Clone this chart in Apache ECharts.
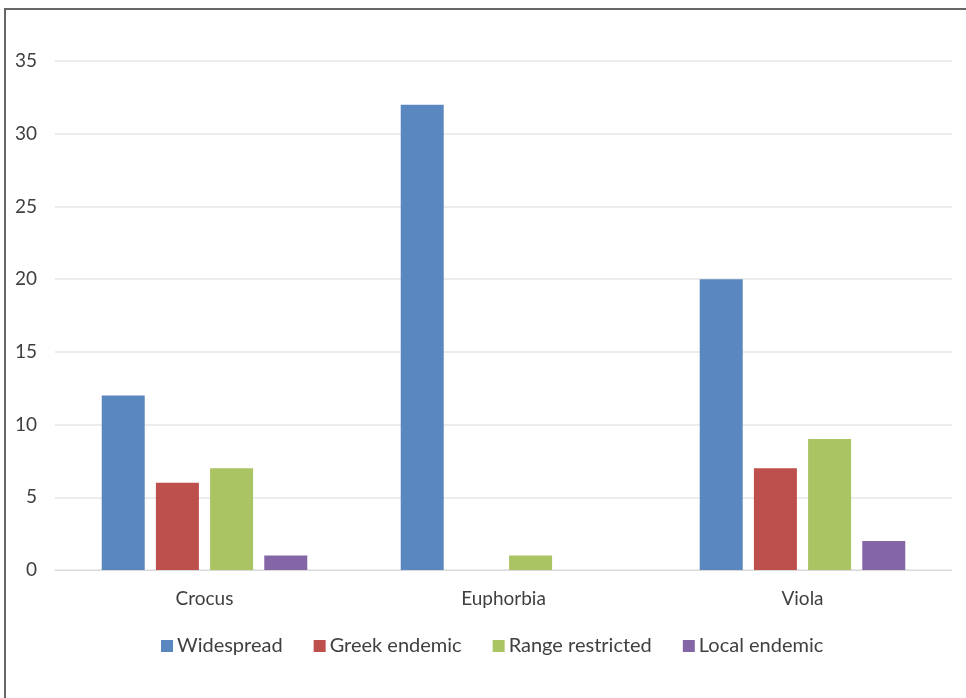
<!DOCTYPE html>
<html>
<head>
<meta charset="utf-8">
<script src="https://cdn.jsdelivr.net/npm/echarts@6/dist/echarts.min.js"></script>
<style>
html,body{margin:0;padding:0;background:#fff;}
#chart{width:966px;height:698px;}
</style>
</head>
<body>
<div id="chart"></div>
<script>
const categories = ['Crocus', 'Euphorbia', 'Viola'];
const widespread = [12, 32, 20];
const greekEndemic = [6, 0, 7];
const rangeRestricted = [7, 1, 9];
const localEndemic = [1, 0, 2];
const seriesNames = ['Widespread', 'Greek endemic', 'Range restricted', 'Local endemic'];
const colors = ['#5B87C1', '#BD4F4C', '#AAC363', '#8466A6'];

const chart = echarts.init(document.getElementById('chart'));
const values = [widespread, greekEndemic, rangeRestricted, localEndemic];
const font = "Lato, 'Open Sans', sans-serif";
chart.setOption({
  animation: false,
  backgroundColor: '#fff',
  graphic: [{
    type: 'rect',
    shape: { x: 5, y: 9, width: 1000, height: 800 },
    style: { fill: 'none', stroke: '#666', lineWidth: 2 },
    silent: true
  }],
  grid: { left: 55, right: 14, top: 61, bottom: 128, containLabel: false },
  legend: {
    data: seriesNames,
    top: 631,
    left: 156,
    itemWidth: 12,
    itemHeight: 12,
    itemGap: 31,
    icon: 'rect',
    textStyle: { fontFamily: font, fontSize: 20, color: '#404040', padding: [0, 0, 0, -1] }
  },
  xAxis: {
    type: 'category',
    data: categories,
    axisLine: { lineStyle: { color: '#D9D9D9', width: 1 } },
    axisTick: { show: false },
    axisLabel: { fontFamily: font, fontSize: 19, color: '#404040', margin: 19 }
  },
  yAxis: {
    type: 'value',
    min: 0,
    max: 35,
    interval: 5,
    axisLine: { show: false },
    axisTick: { show: false },
    splitLine: { lineStyle: { color: '#E6E6E6', width: 1.5 } },
    axisLabel: { fontFamily: font, fontSize: 19, color: '#404040', margin: 18 }
  },
  series: seriesNames.map((n, i) => ({
    name: n,
    type: 'bar',
    data: values[i],
    barWidth: 43,
    barGap: '26%',
    itemStyle: { color: colors[i] }
  }))
});
</script>
</body>
</html>
